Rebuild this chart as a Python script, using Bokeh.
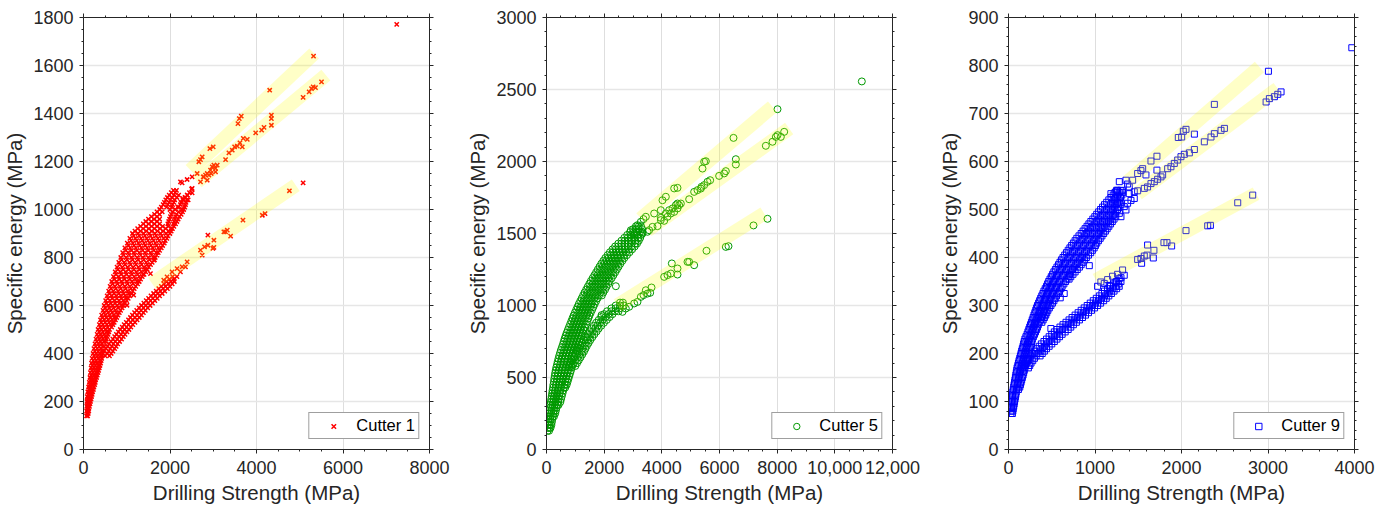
from bokeh.plotting import figure
from bokeh.models import Range1d, FixedTicker, LinearAxis, Legend, LegendItem, ColumnDataSource
from bokeh.layouts import row
from bokeh.embed import file_html
from bokeh.resources import INLINE

# ---------------- Cutter 1 (red x) ----------------
# dense rows: (specific energy, [drilling strength values])
c1_upper_rows = [
    (140, [72, 95]), (160, [74, 100, 122]), (180, [76, 104, 138]), (200, [80, 115, 160]),
    (220, [86, 128, 186]), (240, [100, 150, 210]), (260, [118, 170, 240]),
    (280, [134, 190, 250, 272]), (300, [150, 205, 260, 302]), (320, [160, 225, 285, 335]),
    (340, [176, 240, 305, 365]), (360, [186, 255, 320, 395]), (380, [200, 270, 345, 420]),
    (400, [222, 300, 380]), (420, [242, 320, 400]), (440, [266, 345, 420]),
    (460, [290, 370, 450, 528]), (480, [316, 400, 480, 568]),
    (500, [338, 420, 510, 600]), (520, [366, 450, 540, 620, 680]),
    (540, [392, 480, 570, 660, 738]), (560, [420, 510, 605, 700, 798]),
    (580, [452, 545, 640, 740, 858]), (600, [478, 575, 675, 780, 880, 924]),
    (620, [512, 610, 715, 820, 920, 998]), (640, [546, 650, 755, 860, 965, 1068]),
    (660, [582, 690, 800, 910, 1020, 1138]), (680, [616, 725, 840, 955, 1070, 1208]),
    (700, [652, 765, 880, 1000, 1120, 1240, 1288]), (720, [692, 810, 930, 1050, 1170, 1290, 1358]),
    (740, [732, 850, 975, 1100, 1220, 1340, 1438]), (760, [776, 895, 1020, 1145, 1270, 1395, 1508]),
    (780, [816, 940, 1065, 1190, 1320, 1450, 1588]), (800, [862, 985, 1110, 1240, 1370, 1500, 1620, 1658]),
    (820, [906, 1030, 1160, 1290, 1420, 1550, 1680, 1728]), (840, [956, 1080, 1210, 1340, 1470, 1600, 1730, 1798]),
    (860, [1012, 1140, 1270, 1400, 1530, 1660, 1790, 1868]), (880, [1072, 1200, 1330, 1460, 1590, 1720, 1850, 1928]),
    (900, [1132, 1260, 1390, 1520, 1650, 1780, 1910, 1998]), (920, [1252, 1380, 1510, 1640, 1770, 1900, 2030, 2058]),
    (940, [1382, 1510, 1640, 1760, 1950, 2080, 2128]), (960, [1502, 1630, 1760, 1990, 2110, 2188]),
    (980, [1642, 1760, 2030, 2150, 2258]), (1000, [1762, 2000, 2120, 2280, 2318]),
    (1020, [1842, 1950, 2060, 2240, 2358]), (1040, [1902, 2010, 2110, 2300, 2388]),
    (1060, [1982, 2090, 2200, 2400]), (1080, [2080, 2150]),
]
c1_upper_rows_b = [
    (150, [84, 110]), (170, [88, 120]), (190, [92, 130, 150]), (210, [96, 145, 175]),
    (230, [108, 160, 200]), (250, [122, 180, 228]), (270, [140, 200, 258]), (290, [160, 220, 280]),
    (310, [175, 235, 295, 318]), (330, [190, 255, 320, 350]), (350, [205, 275, 345, 380]),
    (370, [225, 295, 370, 408]), (390, [245, 320, 395, 430]), (410, [262, 340, 420, 455]),
    (430, [282, 360, 440, 482]), (450, [308, 390, 470, 512]), (470, [335, 415, 495, 550]),
    (490, [360, 445, 530, 585]), (510, [385, 470, 560, 650]), (530, [410, 500, 590, 680, 710]),
    (550, [438, 530, 625, 720, 768]), (570, [470, 565, 660, 760, 828]), (590, [498, 595, 695, 800, 892]),
    (610, [530, 630, 730, 835, 940, 962]), (630, [565, 668, 772, 880, 985, 1034]),
    (650, [600, 708, 818, 930, 1045, 1104]), (670, [636, 745, 860, 975, 1095, 1172]),
    (690, [672, 785, 900, 1020, 1145, 1250]), (710, [712, 830, 950, 1075, 1200, 1320]),
    (730, [752, 872, 998, 1122, 1250, 1375, 1400]), (750, [796, 918, 1042, 1168, 1295, 1420, 1474]),
    (770, [838, 962, 1088, 1215, 1345, 1475, 1550]), (790, [882, 1008, 1135, 1265, 1395, 1525, 1640]),
    (810, [928, 1055, 1185, 1315, 1445, 1575, 1700]), (830, [980, 1108, 1238, 1368, 1498, 1628, 1760]),
    (850, [1040, 1170, 1300, 1430, 1560, 1690, 1830]), (870, [1100, 1230, 1360, 1490, 1620, 1750, 1890]),
    (890, [1160, 1290, 1420, 1550, 1680, 1810, 1950]), (910, [1190, 1320, 1450, 1580, 1710, 1840, 1970, 2028]),
    (930, [1320, 1445, 1575, 1700, 1830, 1960, 2090]), (950, [1440, 1570, 1700, 1970, 2100, 2160]),
    (970, [1570, 1700, 2010, 2130, 2220]), (990, [1700, 1820, 2060, 2200, 2290]),
    (1010, [1800, 1920, 2040, 2180, 2340]), (1030, [1870, 1980, 2090, 2270, 2370]),
    (1050, [1940, 2050, 2160, 2350]), (1070, [2030, 2120]),
]
c1_lower_rows = [
    (400, [440, 550, 640]), (420, [520, 620, 720]), (440, [590, 690, 790]), (460, [680, 780, 880]),
    (480, [760, 870, 960]), (500, [850, 950, 1050]), (520, [940, 1040, 1140]), (540, [1040, 1140, 1240]),
    (560, [1130, 1240, 1340]), (580, [1230, 1330, 1430]), (600, [1340, 1440, 1540]), (620, [1450, 1550, 1650]),
    (640, [1560, 1660, 1760]), (660, [1680, 1780, 1880]), (680, [1800, 1900, 2000]), (700, [1920, 2020, 2100]),
    (720, [2060, 2160]),
    (390, [400, 500, 600]), (410, [480, 585, 680]), (430, [555, 655, 755]), (450, [635, 735, 835]),
    (470, [720, 825, 920]), (490, [805, 910, 1005]), (510, [895, 995, 1095]), (530, [990, 1090, 1190]),
    (550, [1085, 1190, 1290]), (570, [1180, 1285, 1385]), (590, [1285, 1385, 1485]), (610, [1395, 1495, 1595]),
    (630, [1505, 1605, 1705]), (650, [1620, 1720, 1820]), (670, [1740, 1840, 1940]), (690, [1860, 1960, 2050]),
    (710, [1990, 2090]),
]
c1_sparse = [
    (1548, 733), (1625, 789), (1160, 643), (1006, 601),
    (1855, 706), (1932, 719), (2048, 740), (2164, 754), (2280, 761), (2396, 782), (2242, 740), (2357, 761),
    (2744, 810), (2705, 831), (2798, 844), (2876, 851), (2876, 893), (3015, 872), (3015, 842), (2991, 838),
    (3246, 907), (3285, 907), (3324, 914), (3401, 889), (3687, 956), (4135, 976), (4197, 983), (4761, 1078), (5078, 1111),
    (2242, 1115), (2280, 1111), (2396, 1125), (2512, 1136), (2628, 1150), (2667, 1199), (2744, 1219), (2705, 1208),
    (2922, 1254), (2999, 1261), (3571, 1358), (3602, 1379), (3648, 1389), (4305, 1497), (5318, 1639),
    (2512, 1088), (2512, 1069), (2705, 1115), (2767, 1136), (2821, 1143), (2860, 1150), (2937, 1164), (2976, 1178),
    (3053, 1171), (3092, 1185), (3015, 1185), (3285, 1208), (3362, 1236), (3440, 1247), (3494, 1261), (3556, 1264),
    (3617, 1278), (3671, 1261), (3694, 1296), (3787, 1292), (3981, 1319), (4119, 1331), (4174, 1342), (4344, 1351),
    (4344, 1393), (4344, 1379), (5078, 1467), (5217, 1490), (5271, 1504), (5310, 1511), (5364, 1508), (5503, 1532),
    (2782, 1136), (2860, 1122), (2899, 1143), (2953, 1150), (3053, 1157),
    (2200, 1010), (2250, 1030), (2300, 1045), (2350, 1050), (2400, 1060), (2420, 1040), (2450, 1070), (2500, 1085),
    (7242, 1771),
]
c1_bands = [((2473, 1164), (5333, 1650)), ((2628, 1115), (5604, 1560)), ((1585, 692), (4908, 1101))]

# ---------------- Cutter 5 (green o) ----------------
c5_upper_rows = [
    (130, [40, 90]), (170, [50, 110, 170]), (210, [70, 130, 200]), (250, [90, 160, 240, 300]),
    (290, [120, 190, 270, 350]), (330, [150, 230, 310, 400, 480]), (370, [180, 260, 350, 440, 530]),
    (410, [210, 300, 390, 480, 580]), (450, [240, 330, 430, 530, 630, 700]),
    (490, [270, 370, 470, 570, 670, 760]), (530, [300, 400, 510, 620, 720, 820]),
    (570, [340, 450, 560, 670, 780, 880]), (610, [390, 500, 610, 720, 830]),
    (650, [440, 550, 660, 770, 880, 960]), (690, [500, 610, 720, 830, 940, 1030]),
    (730, [570, 680, 790, 900, 1010, 1100]), (770, [630, 740, 850, 960, 1070, 1180]),
    (810, [700, 810, 920, 1030, 1140, 1250]), (850, [780, 890, 1000, 1110, 1220, 1330]),
    (890, [860, 970, 1080, 1190, 1300, 1410]), (930, [940, 1050, 1160, 1270, 1380, 1490]),
    (970, [1030, 1140, 1250, 1360, 1470, 1580]), (1010, [1120, 1230, 1340, 1450, 1560, 1670]),
    (1050, [1220, 1330, 1440, 1550, 1660, 1770]), (1090, [1320, 1430, 1540, 1650, 1760, 1870, 1970]),
    (1130, [1430, 1540, 1650, 1760, 1870, 1980, 2080]), (1170, [1540, 1650, 1760, 1870, 1980, 2090, 2190]),
    (1210, [1660, 1770, 1880, 1990, 2100, 2210, 2320]), (1250, [1780, 1890, 2000, 2110, 2220, 2330, 2440]),
    (1290, [1900, 2010, 2120, 2230, 2340, 2450, 2560]), (1330, [2040, 2150, 2260, 2370, 2480, 2590, 2700]),
    (1370, [2200, 2310, 2420, 2530, 2640, 2760, 2880]), (1410, [2380, 2490, 2600, 2710, 2820, 2940, 3060]),
    (1450, [2600, 2720, 2840, 2960, 3080, 3200]), (1490, [2800, 2920, 3040, 3160, 3280]),
    (1530, [3000, 3100, 3200, 3320]),
]
c5_upper_rows_b = [
    (150, [45, 100, 140]), (190, [60, 120, 185]), (230, [80, 145, 220, 260]), (270, [105, 175, 255, 325]),
    (310, [135, 210, 290, 375, 420]), (350, [165, 245, 330, 420, 505]), (390, [195, 280, 370, 460, 555]),
    (430, [225, 315, 410, 505, 605, 650]), (470, [255, 350, 450, 550, 650, 730]),
    (510, [285, 385, 490, 595, 695, 790]), (550, [320, 425, 535, 645, 750, 850]),
    (590, [365, 475, 585, 695, 805, 910]), (630, [415, 525, 635, 745, 855]),
    (670, [470, 580, 690, 800, 910, 1000]), (710, [535, 645, 755, 865, 975, 1065]),
    (750, [600, 710, 820, 930, 1040, 1140]), (790, [665, 775, 885, 995, 1105, 1215]),
    (830, [740, 850, 960, 1070, 1180, 1290]), (870, [820, 930, 1040, 1150, 1260, 1370]),
    (910, [900, 1010, 1120, 1230, 1340, 1450]), (950, [985, 1095, 1205, 1315, 1425, 1535]),
    (990, [1075, 1185, 1295, 1405, 1515, 1625]), (1030, [1170, 1280, 1390, 1500, 1610, 1720]),
    (1070, [1270, 1380, 1490, 1600, 1710, 1820, 1920]), (1110, [1375, 1485, 1595, 1705, 1815, 1925, 2030]),
    (1150, [1485, 1595, 1705, 1815, 1925, 2035, 2140]), (1190, [1600, 1710, 1820, 1930, 2040, 2150, 2260]),
    (1230, [1720, 1830, 1940, 2050, 2160, 2270, 2380]), (1270, [1840, 1950, 2060, 2170, 2280, 2390, 2500]),
    (1310, [1970, 2080, 2190, 2300, 2410, 2520, 2630]), (1350, [2120, 2230, 2340, 2450, 2560, 2680, 2790]),
    (1390, [2290, 2400, 2510, 2620, 2730, 2850, 2970]), (1430, [2490, 2600, 2720, 2840, 2960, 3080, 3140]),
    (1470, [2700, 2820, 2940, 3060, 3180, 3250]), (1510, [2900, 3010, 3120, 3240, 3320]),
    (1550, [3100, 3200, 3280]),
]
c5_lower_rows = [
    (600, [820, 950, 1060]), (640, [960, 1080, 1180]), (680, [1080, 1200, 1300]), (720, [1180, 1300, 1400]),
    (760, [1300, 1420, 1520]), (800, [1420, 1540, 1660]), (840, [1560, 1690, 1810]), (880, [1720, 1860, 1990]),
    (920, [1900, 2050, 2190]), (960, [2100, 2250, 2380, 2500]), (1000, [2400, 2550, 2680]),
    (580, [760, 880, 1000]), (620, [890, 1010, 1120]), (660, [1020, 1140, 1240]), (700, [1130, 1250, 1350]),
    (740, [1240, 1360, 1460]), (780, [1360, 1480, 1590]), (820, [1490, 1610, 1740]), (860, [1640, 1770, 1900]),
    (900, [1810, 1950, 2090]), (940, [2000, 2150, 2290]), (980, [2250, 2400, 2540]), (1020, [2550, 2650]),
]
c5_sparse = [
    (2636, 956), (2751, 979), (2867, 991), (3040, 1014), (3156, 1025), (3272, 1060), (3364, 1072), (3503, 1083),
    (3445, 1106), (3642, 1125), (3595, 1088), (2405, 1134), (1908, 933), (4081, 1199), (4197, 1211), (4312, 1222),
    (4347, 1292), (4543, 1215), (4543, 1257), (4890, 1303), (4948, 1303), (5121, 1280), (5549, 1380), (6220, 1407),
    (6312, 1412), (7179, 1556), (7665, 1602),
    (3272, 1581), (3364, 1600), (3445, 1616), (3734, 1639), (3965, 1662), (4023, 1731), (4139, 1755), (4428, 1813),
    (4543, 1817), (5410, 1951), (5468, 1998), (5526, 2002), (6486, 2164), (8012, 2363),
    (3561, 1523), (3676, 1546), (3850, 1551), (3965, 1593), (4081, 1588), (4197, 1616), (4312, 1639), (4428, 1650),
    (4543, 1674), (4601, 1697), (4659, 1708), (4948, 1738), (5121, 1789), (5237, 1801), (5353, 1812), (5468, 1836),
    (5584, 1859), (5676, 1870), (5376, 1824), (5988, 1900), (6162, 1917), (6220, 1933), (6567, 1979), (6567, 2016),
    (7607, 2109), (7838, 2137), (7954, 2171), (8012, 2183), (8127, 2171), (8243, 2206),
    (3965, 1609), (4139, 1639), (4254, 1662), (4370, 1674), (4486, 1697), (4543, 1708),
    (2925, 1523), (3156, 1558), (3040, 1500), (3329, 1500), (3503, 1512),
    (10936, 2556),
]
c5_bands = [((3272, 1604), (7838, 2380)), ((3503, 1523), (8416, 2229)), ((2462, 1002), (7549, 1639))]

# ---------------- Cutter 9 (blue squares) ----------------
c9_upper_rows = [
    (80, [30, 50]), (90, [35, 60]), (100, [40, 70]), (110, [45, 80]), (120, [50, 90]),
    (130, [60, 100, 130]), (140, [70, 110, 145]), (150, [80, 120, 160]), (160, [90, 130, 175]),
    (170, [100, 145, 190]), (180, [115, 160, 205]), (190, [130, 175, 220]), (200, [145, 190, 235]),
    (210, [160, 205, 250]), (220, [175, 220, 265]), (230, [190, 240, 275]), (240, [215, 260, 300]),
    (250, [235, 280, 325]), (260, [255, 300, 345]), (270, [275, 320, 370, 400]), (280, [295, 345, 395, 430]),
    (290, [315, 365, 415, 455]), (300, [335, 390, 445, 490]), (310, [360, 415, 470, 525]),
    (320, [385, 440, 495, 555]), (330, [410, 465, 525, 590]), (340, [440, 495, 555, 620]),
    (350, [465, 525, 590, 660]), (360, [495, 555, 620, 690, 720]), (370, [525, 590, 655, 720, 770]),
    (380, [560, 625, 690, 760, 820]), (390, [595, 660, 730, 800, 860]), (400, [630, 700, 770, 840, 900]),
    (410, [670, 740, 810, 880, 950]), (420, [710, 780, 850, 920, 990]), (430, [750, 820, 890, 960, 1020]),
    (440, [790, 860, 930, 1000, 1060]), (450, [840, 905, 970, 1040, 1100]), (460, [885, 950, 1015, 1080, 1140]),
    (470, [930, 1000, 1065, 1130, 1180]), (480, [975, 1045, 1110, 1175, 1220]), (490, [1020, 1090, 1160, 1220]),
    (500, [1065, 1135, 1200, 1260]), (510, [1110, 1180, 1240, 1290]), (520, [1160, 1220, 1280]),
    (530, [1210, 1260, 1310]), (540, [1250, 1300]),
]
c9_upper_rows_b = [
    (75, [28, 45]), (85, [32, 55]), (95, [38, 65]), (105, [42, 75]), (115, [48, 85]),
    (125, [55, 95, 115]), (135, [65, 105, 138]), (145, [75, 115, 152]), (155, [85, 125, 168]),
    (165, [95, 138, 182]), (175, [108, 152, 198]), (185, [122, 168, 212]), (195, [138, 182, 228]),
    (205, [152, 198, 242]), (215, [168, 212, 258]), (225, [182, 230, 270]), (235, [202, 250, 288]),
    (245, [225, 270, 312]), (255, [245, 290, 335]), (265, [265, 310, 355, 385]), (275, [285, 332, 382, 415]),
    (285, [305, 355, 405, 442]), (295, [325, 378, 430, 472]), (305, [348, 402, 458, 508]),
    (315, [372, 428, 482, 540]), (325, [398, 452, 510, 572]), (335, [425, 480, 540, 605]),
    (345, [452, 510, 572, 640]), (355, [480, 540, 605, 675, 700]), (365, [510, 572, 638, 705, 745]),
    (375, [542, 608, 672, 740, 795]), (385, [578, 642, 710, 780, 840]), (395, [612, 680, 750, 820, 880]),
    (405, [650, 720, 790, 860, 925]), (415, [690, 760, 830, 900, 970]), (425, [730, 800, 870, 940, 1005]),
    (435, [770, 840, 910, 980, 1040]), (445, [815, 882, 950, 1020, 1080]), (455, [862, 928, 992, 1060, 1120]),
    (465, [908, 975, 1040, 1105, 1160]), (475, [952, 1022, 1088, 1152, 1200]), (485, [998, 1068, 1135, 1198, 1240]),
    (495, [1042, 1112, 1180, 1240]), (505, [1088, 1158, 1220, 1275]), (515, [1135, 1200, 1260, 1300]),
    (525, [1185, 1240, 1295]), (535, [1230, 1280, 1320]),
]
c9_lower_rows = [
    (170, [170, 230]), (180, [200, 260]), (190, [240, 300]), (200, [280, 340, 390]), (210, [330, 390, 440]),
    (220, [380, 440, 500]), (230, [440, 500, 560]), (240, [500, 560, 620]), (250, [560, 620, 690]),
    (260, [630, 690, 750]), (270, [700, 760, 820]), (280, [770, 830, 890]), (290, [840, 900, 960]),
    (300, [910, 970, 1030]), (310, [980, 1040, 1100]), (320, [1050, 1110, 1160]), (330, [1110, 1170, 1220]),
    (340, [1180, 1240, 1280]), (350, [1250, 1300]),
    (175, [185, 245]), (185, [220, 280]), (195, [260, 320, 365]), (205, [305, 365, 415]), (215, [355, 415, 470]),
    (225, [410, 470, 530]), (235, [470, 530, 590]), (245, [530, 590, 655]), (255, [595, 655, 720]),
    (265, [665, 725, 785]), (275, [735, 795, 855]), (285, [805, 865, 925]), (295, [875, 935, 995]),
    (305, [945, 1005, 1065]), (315, [1015, 1075, 1130]), (325, [1080, 1140, 1190]), (335, [1145, 1205, 1250]),
    (345, [1215, 1270]),
]
c9_sparse = [
    (1030, 340), (1068, 349), (1107, 346), (1146, 354), (1165, 342), (1203, 361), (1242, 349), (1261, 365),
    (1300, 358), (1319, 374), (1338, 363), (1280, 356), (1493, 396), (1531, 398), (1539, 388), (1570, 403),
    (1601, 405), (1608, 426), (1674, 399), (1681, 415), (1797, 431), (1832, 431), (1886, 424), (2052, 456),
    (2303, 466), (2334, 467), (2650, 514), (2823, 530),
    (934, 383), (598, 316), (644, 325), (490, 252),
    (1261, 540), (1358, 561), (1435, 561), (1493, 575), (1531, 581), (1551, 585), (1589, 572), (1647, 601),
    (1716, 611), (1716, 582), (1963, 650), (2002, 651), (2021, 663), (2052, 667), (2149, 657), (2380, 719), (3005, 788),
    (1396, 533), (1454, 537), (1493, 539), (1570, 544), (1608, 547), (1647, 554), (1686, 558), (1724, 563),
    (1763, 568), (1782, 572), (1840, 585), (1878, 589), (1917, 596), (1956, 603), (1994, 610), (2033, 615),
    (2091, 618), (2149, 625), (2264, 641), (2341, 651), (2380, 658), (2457, 665), (2496, 669), (2978, 724),
    (3016, 731), (3074, 735), (3113, 740), (3151, 745),
    (1281, 558), (1377, 553), (1396, 547), (1184, 533), (1242, 537), (1319, 539),
    (1281, 492), (1338, 506), (1377, 513), (1416, 519), (1300, 485), (1358, 499), (1454, 523),
    (3969, 837),
]
c9_bands = [((1377, 558), (2901, 797)), ((1493, 533), (3113, 752)), ((1011, 353), (2862, 533))]

x_label = "Drilling Strength (MPa)"
y_label = "Specific energy (MPa)"

TXT = "#262626"
FONT = "Liberation Sans"


def collect(row_groups, sparse):
    xs, ys = [], []
    for rows in row_groups:
        for yv, row_x in rows:
            for xv in row_x:
                xs.append(xv)
                ys.append(yv)
    for xv, yv in sparse:
        xs.append(xv)
        ys.append(yv)
    return xs, ys


def style_axis(ax, ticker, show_labels, is_x, label=None):
    ax.ticker = ticker
    ax.axis_line_color = TXT
    ax.major_tick_line_color = TXT
    ax.minor_tick_line_color = TXT
    ax.major_tick_in = 0
    ax.major_tick_out = 4
    ax.minor_tick_in = 0
    ax.minor_tick_out = 2
    if show_labels:
        ax.major_label_text_font = FONT
        ax.major_label_text_font_size = "18px"
        ax.major_label_text_color = TXT
        ax.major_label_standoff = 7 if is_x else 6
        ax.axis_label = label
        ax.axis_label_text_font = FONT
        ax.axis_label_text_font_size = "20.5px"
        ax.axis_label_text_font_style = "normal"
        ax.axis_label_text_color = TXT
        ax.axis_label_standoff = 4
    else:
        # tick marks only (box axis of the reference), labels not drawn
        ax.major_label_text_color = None
        ax.major_label_text_font_size = "1px"
        ax.major_label_standoff = 0


def panel(xs, ys, bands, marker, size, color, lw, label, xmax, xstep, xminor, ymax, ystep, yminor,
          xoverrides, bl, br):
    p = figure(frame_width=346, frame_height=432, output_backend="svg", toolbar_location=None,
               x_range=Range1d(0, xmax), y_range=Range1d(0, ymax),
               min_border_left=bl, min_border_right=br, min_border_top=17, min_border_bottom=64)
    p.outline_line_color = None
    p.background_fill_color = "white"
    p.border_fill_color = "white"
    xt = list(range(0, xmax + 1, xstep))
    yt = list(range(0, ymax + 1, ystep))
    xm = [v for v in range(0, xmax + 1, xminor) if v not in xt]
    ym = [v for v in range(0, ymax + 1, yminor) if v not in yt]

    src = ColumnDataSource(dict(x=xs, y=ys))
    r = p.scatter("x", "y", source=src, marker=marker, size=size, line_color=color,
                  fill_color=None, line_width=lw)
    for (x0, y0), (x1, y1) in bands:
        p.line([x0, x1], [y0, y1], line_width=14, line_color="#ffff00", line_alpha=0.22, line_cap="butt")

    style_axis(p.xaxis[0], FixedTicker(ticks=xt, minor_ticks=xm), True, True, x_label)
    style_axis(p.yaxis[0], FixedTicker(ticks=yt, minor_ticks=ym), True, False, y_label)
    if xoverrides:
        p.xaxis[0].major_label_overrides = xoverrides
    top = LinearAxis()
    style_axis(top, FixedTicker(ticks=xt, minor_ticks=xm), False, True)
    p.add_layout(top, "above")
    right = LinearAxis()
    style_axis(right, FixedTicker(ticks=yt, minor_ticks=ym), False, False)
    p.add_layout(right, "right")

    p.xgrid.ticker = FixedTicker(ticks=xt)
    p.ygrid.ticker = FixedTicker(ticks=yt)
    p.xgrid.grid_line_color = "#dedede"
    p.ygrid.grid_line_color = "#e6e6e6"
    p.xgrid.grid_line_width = 1
    p.ygrid.grid_line_width = 1.5

    leg = Legend(items=[LegendItem(label=label, renderers=[r])], location="bottom_right")
    leg.margin = 10
    leg.padding = 3
    leg.spacing = 0
    leg.glyph_width = 42
    leg.glyph_height = 16
    leg.label_height = 16
    leg.label_standoff = 2
    leg.label_text_font = FONT
    leg.label_text_font_size = "16.5px"
    leg.label_text_color = "#000000"
    leg.border_line_color = "#404040"
    leg.border_line_width = 1
    leg.background_fill_color = "white"
    leg.background_fill_alpha = 1
    p.add_layout(leg)
    return p


x1, y1 = collect([c1_upper_rows, c1_upper_rows_b, c1_lower_rows], c1_sparse)
x5, y5 = collect([c5_upper_rows, c5_upper_rows_b, c5_lower_rows], c5_sparse)
x9, y9 = collect([c9_upper_rows, c9_upper_rows_b, c9_lower_rows], c9_sparse)

p1 = panel(x1, y1, c1_bands, "x", 6, "#ff0000", 1.5, "Cutter 1",
           8000, 2000, 500, 1800, 200, 50, None, 83, 34)
p2 = panel(x5, y5, c5_bands, "circle", 7, "#009900", 1, "Cutter 5",
           12000, 2000, 500, 3000, 500, 100, {10000: "10,000", 12000: "12,000"}, 83, 34)
p3 = panel(x9, y9, c9_bands, "square", 6, "#0000ff", 1, "Cutter 9",
           4000, 1000, 200, 900, 100, 20, None, 82, 39)

layout = row(p1, p2, p3)
open("out.html", "w").write(file_html(layout, INLINE))
